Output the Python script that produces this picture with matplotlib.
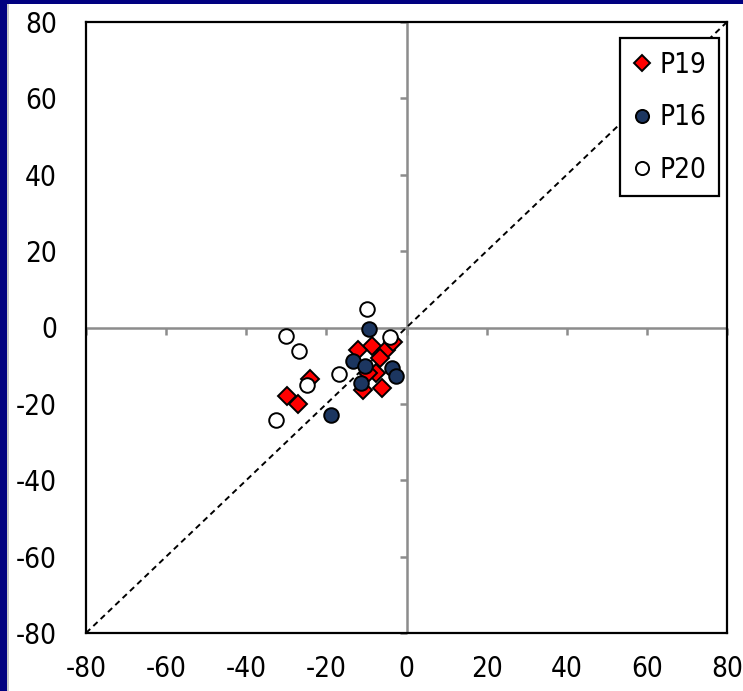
import matplotlib
matplotlib.use("Agg")
import matplotlib.pyplot as plt
from matplotlib.patches import Rectangle
from matplotlib.markers import TICKDOWN, TICKLEFT

plt.rcParams['font.family'] = ['DejaVu Sans']
plt.rcParams['font.stretch'] = 'condensed'

# Series values
p19_x = [-8.6, -12.0, -5.1, -3.4, -6.6, -7.6, -9.5, -6.2, -10.9, -24.1, -29.9, -27.0]
p19_y = [-4.8, -5.8, -5.8, -3.8, -8.0, -11.8, -12.0, -15.8, -16.3, -13.4, -18.0, -20.0]

p16_x = [-9.3, -13.4, -10.4, -3.7, -2.6, -11.4, -18.8]
p16_y = [-0.4, -8.7, -10.2, -10.5, -12.7, -14.6, -23.0]

p20_x = [-9.9, -30.1, -26.8, -4.1, -16.9, -24.9, -32.6]
p20_y = [4.9, -2.2, -6.1, -2.4, -12.2, -15.1, -24.1]

ticks = [-80, -60, -40, -20, 0, 20, 40, 60, 80]
lim = (-80, 80)

fig = plt.figure(figsize=(7.43, 6.91), dpi=100)
fig.patch.set_facecolor('white')

# Navy slide frame on the left and top edges
fig.patches.append(Rectangle((0, 0), 7 / 743, 1, transform=fig.transFigure,
                             facecolor='#000080', edgecolor='none', zorder=0))
fig.patches.append(Rectangle((0, 1 - 4 / 691), 1, 4 / 691, transform=fig.transFigure,
                             facecolor='#000080', edgecolor='none', zorder=0))
fig.patches.append(Rectangle((7 / 743, 0), 1.5 / 743, 1 - 4 / 691, transform=fig.transFigure,
                             facecolor='#c8c8c8', edgecolor='none', zorder=0))

ax = fig.add_axes([86 / 743, 58 / 691, 641 / 743, 611 / 691])
ax.set_xlim(lim)
ax.set_ylim(lim)

for s in ax.spines.values():
    s.set_linewidth(1.6)
    s.set_color('black')

# Zero axes in grey with their tick marks
grey = '#8c8c8c'
ax.axhline(0, color=grey, lw=1.8, zorder=1)
ax.axvline(0, color=grey, lw=1.8, zorder=1)
ax.plot(ticks, [0] * len(ticks), ls='none', marker=TICKDOWN, ms=5, mew=1.8,
        color=grey, zorder=1, clip_on=False)
ax.plot([0] * len(ticks), ticks, ls='none', marker=TICKLEFT, ms=5, mew=1.8,
        color=grey, zorder=1, clip_on=False)

# 1:1 reference line
ax.plot(lim, lim, ls=(0, (3, 2.2)), color='black', lw=1.4, zorder=2)

ms = 10.5
ax.plot(p19_x, p19_y, ls='none', marker='D', ms=ms * 0.9, mfc='#ff0000', mec='black',
        mew=1.4, label='P19', zorder=3)
ax.plot(p16_x, p16_y, ls='none', marker='o', ms=ms, mfc='#1c3660', mec='black',
        mew=1.4, label='P16', zorder=4)
ax.plot(p20_x, p20_y, ls='none', marker='o', ms=ms, mfc='white', mec='black',
        mew=1.4, label='P20', zorder=5)

ax.set_xticks(ticks)
ax.set_yticks(ticks)
ax.set_xticklabels([str(t) for t in ticks])
ax.set_yticklabels([str(t) for t in ticks])
ax.tick_params(axis='both', length=0, labelsize=20, colors='black')
ax.tick_params(axis='x', pad=16)
ax.tick_params(axis='y', pad=21)

leg = ax.legend(loc='upper right', bbox_to_anchor=(0.988, 0.973), fontsize=20,
                frameon=True, fancybox=False, framealpha=1, edgecolor='black',
                handlelength=0.7, handletextpad=0.3, labelspacing=0.88,
                borderpad=0.45, borderaxespad=0, markerscale=0.9)
leg.get_frame().set_linewidth(1.6)

fig.savefig('out.png', dpi=100, facecolor=fig.get_facecolor())
